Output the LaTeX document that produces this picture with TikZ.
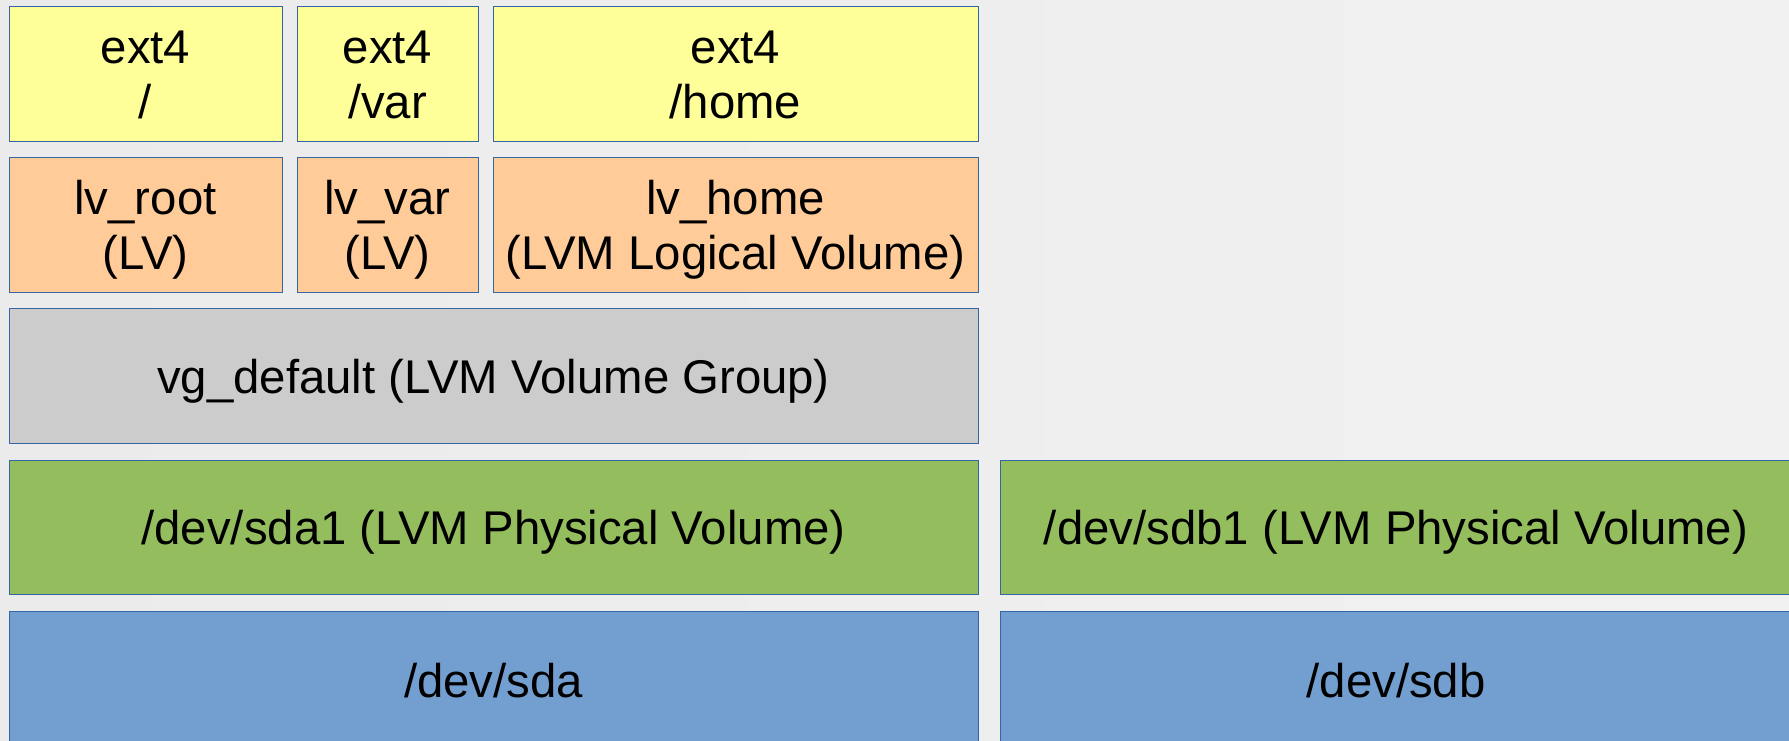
\documentclass[tikz,border=0pt]{standalone}
\usepackage{fontspec}
\setmainfont{Liberation Sans}
\definecolor{bgmid}{HTML}{F7F7F7}
\definecolor{bgleft}{HTML}{EBEBEB}
\definecolor{bgright}{HTML}{F1F1F1}
\definecolor{fsyellow}{HTML}{FFFF99}
\definecolor{lvorange}{HTML}{FFCC99}
\definecolor{vggray}{HTML}{CCCCCC}
\definecolor{pvgreen}{HTML}{94BD5E}
\definecolor{diskblue}{HTML}{729FCF}
\definecolor{edgeblue}{HTML}{3465A4}
% every text line gets the same fixed ascent and descent
\newcommand{\txl}[1]{\rule[-0.2em]{0pt}{1.15em}#1}
\begin{document}
\begin{tikzpicture}[x=0.75pt,y=-0.75pt,
  layer/.style={draw=edgeblue, line width=0.75pt, inner sep=0pt, outer sep=0pt,
    align=center, font=\fontsize{35.5}{41.5}\selectfont, text=black},
  fsbox/.style={layer, fill=fsyellow},
  lvbox/.style={layer, fill=lvorange},
  vgbox/.style={layer, fill=vggray},
  pvbox/.style={layer, fill=pvgreen},
  diskbox/.style={layer, fill=diskblue}]
\useasboundingbox (0,0) rectangle (1789,740);
\clip (0,0) rectangle (1789,740);
% slide background
\shade[left color=bgleft, middle color=bgmid, right color=bgright] (0,0) rectangle (1789,740);

% file systems
\node[fsbox, minimum width=204.75pt, minimum height=101.25pt] (fsroot) at (145.5,73.5) {\txl{ext4}\\\txl{/}};
\node[fsbox, minimum width=135.75pt, minimum height=101.25pt] (fsvar) at (387.5,73.5) {\txl{ext4}\\\txl{/var}};
\node[fsbox, minimum width=363.75pt, minimum height=101.25pt] (fshome) at (735.5,73.5) {\txl{ext4}\\\txl{/home}};

% logical volumes
\node[lvbox, minimum width=204.75pt, minimum height=101.25pt] (lvroot) at (145.5,224.5) {\txl{lv\_root}\\\txl{(LV)}};
\node[lvbox, minimum width=135.75pt, minimum height=101.25pt] (lvvar) at (387.5,224.5) {\txl{lv\_var}\\\txl{(LV)}};
\node[lvbox, minimum width=363.75pt, minimum height=101.25pt] (lvhome) at (735.5,224.5) {\txl{lv\_home}\\\txl{(LVM Logical Volume)}};

% volume group
\node[vgbox, minimum width=726.75pt, minimum height=101.25pt] (vg) at (493.5,375.5) {\txl{vg\_default (LVM Volume Group)}};

% physical volumes
\node[pvbox, minimum width=726.75pt, minimum height=100.5pt] (pva) at (493.5,527) {\txl{/dev/sda1 (LVM Physical Volume)}};
\node[pvbox, minimum width=594pt, minimum height=100.5pt] (pvb) at (1396,527) {\txl{/dev/sdb1 (LVM Physical Volume)}};

% disks
\node[diskbox, minimum width=726.75pt, minimum height=103.5pt] (sda) at (493.5,680) {\txl{/dev/sda}};
\node[diskbox, minimum width=594pt, minimum height=103.5pt] (sdb) at (1396,680) {\txl{/dev/sdb}};
\end{tikzpicture}
\end{document}
